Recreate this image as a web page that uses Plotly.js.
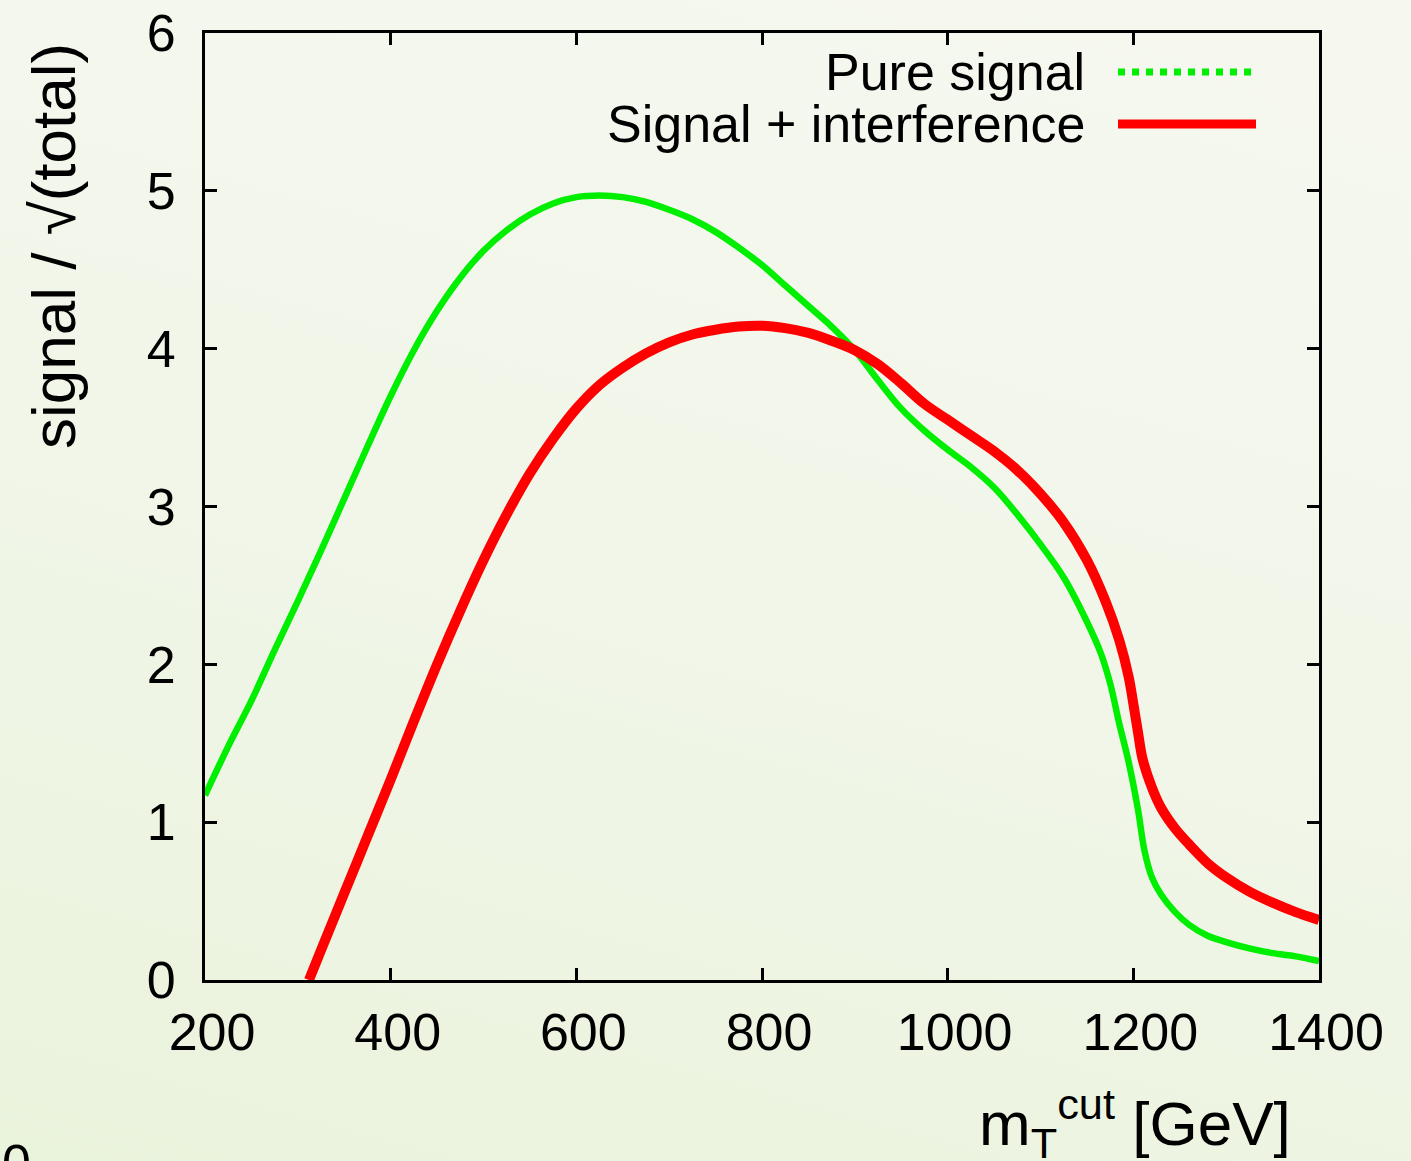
<!DOCTYPE html>
<html>
<head>
<meta charset="utf-8">
<script src="https://cdn.plot.ly/plotly-3.0.1.min.js"></script>
<style>
  html, body { margin:0; padding:0; }
  body { width:1411px; height:1161px; overflow:hidden;
         background: linear-gradient(195deg, #F6F8F0 0%, #F1F6E9 50%, #EAF3DC 100%); }
  #chart { width:1411px; height:1161px; }
</style>
</head>
<body>
<div id="chart"></div>
<script>
// ---- data ----
const xPure = [200,225,250,275,300,325,350,375,400,425,450,475,500,525,550,575,600,625,650,675,700,725,750,775,800,825,850,875,900,925,950,975,1000,1025,1050,1075,1100,1125,1150,1165,1175,1185,1195,1205,1212,1220,1230,1245,1260,1280,1300,1325,1350,1375,1400];
const yPure = [1.17,1.48,1.77,2.09,2.40,2.72,3.05,3.38,3.70,3.99,4.24,4.45,4.62,4.75,4.85,4.92,4.96,4.97,4.96,4.93,4.88,4.82,4.74,4.64,4.53,4.40,4.27,4.14,3.99,3.80,3.62,3.48,3.36,3.25,3.12,2.95,2.76,2.55,2.27,2.07,1.88,1.62,1.38,1.08,0.82,0.65,0.54,0.43,0.35,0.28,0.24,0.20,0.17,0.15,0.12];
const xInt = [312,325,350,375,400,425,450,475,500,525,550,575,600,625,650,675,700,725,750,775,800,825,850,875,900,925,950,975,1000,1025,1050,1075,1100,1125,1150,1170,1185,1195,1200,1205,1210,1220,1230,1245,1260,1280,1300,1325,1350,1375,1400];
const yInt = [0.00,0.19,0.55,0.91,1.27,1.64,2.00,2.34,2.66,2.95,3.21,3.43,3.62,3.77,3.88,3.97,4.04,4.09,4.12,4.14,4.145,4.13,4.10,4.05,3.99,3.90,3.78,3.65,3.55,3.45,3.35,3.23,3.08,2.90,2.66,2.40,2.15,1.92,1.75,1.57,1.40,1.22,1.09,0.96,0.86,0.74,0.65,0.56,0.49,0.43,0.38];
const seriesNames = ["Pure signal", "Signal + interference"];
const xTicks = [200,400,600,800,1000,1200,1400];
const yTicks = [0,1,2,3,4,5,6];

// ---- layout helpers (pixel -> paper) ----
const L = 205, R = 1319, T = 33, B = 980;
const px = p => (p - L) / (R - L);
const py = p => (B - p) / (B - T);

const FONT = "Liberation Sans, Arial, Helvetica, sans-serif";
const FS = 52;
const FT = 62;

const traces = [
  { x: xPure, y: yPure, mode: "lines", name: seriesNames[0], showlegend: false,
    line: { color: "#00EE00", width: 6.5, shape: "spline", smoothing: 1 } },
  { x: xInt, y: yInt, mode: "lines", name: seriesNames[1], showlegend: false,
    line: { color: "#FF0000", width: 10, shape: "spline", smoothing: 1 } }
];

const axisCommon = {
  showgrid: false, zeroline: false, showline: true, linecolor: "#000", linewidth: 3,
  mirror: "ticks", ticks: "inside", ticklen: 12, tickwidth: 3, tickcolor: "#000",
  tickfont: { family: FONT, size: FS, color: "#000" }
};

const layout = {
  width: 1411, height: 1161,
  margin: { l: L, r: 1411 - R, t: T, b: 1161 - B },
  paper_bgcolor: "rgba(0,0,0,0)", plot_bgcolor: "rgba(0,0,0,0)",
  showlegend: false,
  xaxis: Object.assign({}, axisCommon, { range: [200, 1400], tickvals: xTicks, ticktext: xTicks.map(String),
    ticklabelstandoff: 5, ticklabelshift: 7 }),
  yaxis: Object.assign({}, axisCommon, { range: [0, 6], tickvals: yTicks, ticktext: yTicks.map(String), ticklabelstandoff: 16 }),
  annotations: [
    { xref: "paper", yref: "paper", x: px(1087), y: py(72), xanchor: "right", yanchor: "middle",
      text: seriesNames[0], showarrow: false, font: { family: FONT, size: FS, color: "#000" } },
    { xref: "paper", yref: "paper", x: px(1087), y: py(124), xanchor: "right", yanchor: "middle",
      text: seriesNames[1], showarrow: false, font: { family: FONT, size: FS, color: "#000" } },
    { xref: "paper", yref: "paper", x: px(53), y: py(246), xanchor: "center", yanchor: "middle",
      textangle: -90, text: "signal / √(total)", showarrow: false,
      font: { family: FONT, size: FT, color: "#000" } },
    { xref: "paper", yref: "paper", x: px(1293), y: py(1123), xanchor: "right", yanchor: "middle",
      text: "m<sub>T</sub><sup>cut</sup> [GeV]", showarrow: false,
      font: { family: FONT, size: FT, color: "#000" } },
    { xref: "paper", yref: "paper", x: px(0), y: py(1132), xanchor: "left", yanchor: "top",
      text: "0", showarrow: false, font: { family: FONT, size: FS, color: "#000" } }
  ],
  shapes: [
    { type: "line", xref: "paper", yref: "paper", x0: px(1118), x1: px(1256), y0: py(72), y1: py(72),
      line: { color: "#00EE00", width: 7, dash: "dot" } },
    { type: "line", xref: "paper", yref: "paper", x0: px(1118), x1: px(1256), y0: py(124), y1: py(124),
      line: { color: "#FF0000", width: 9 } }
  ]
};

Plotly.newPlot("chart", traces, layout, { displayModeBar: false, staticPlot: true });
</script>
</body>
</html>
